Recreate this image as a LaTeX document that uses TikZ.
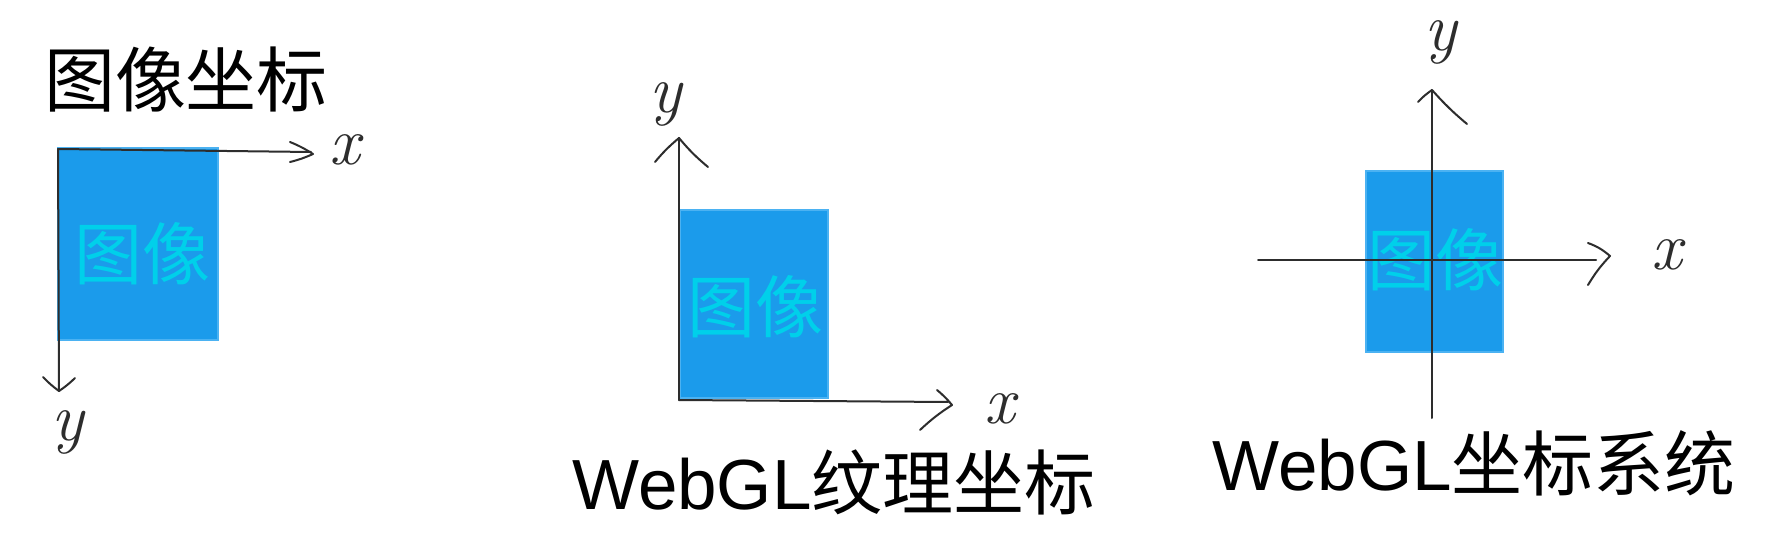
\documentclass[tikz,border=0pt]{standalone}
\usepackage{fontspec}
\newfontfamily\cjk{Noto Sans CJK SC}
\newfontfamily\latn{Liberation Sans}
\definecolor{rectblue}{RGB}{27,155,235}
\definecolor{rectedge}{RGB}{75,178,242}
\definecolor{imgcyan}{RGB}{0,208,234}
\definecolor{axisgray}{RGB}{45,45,45}
\tikzset{
  imgbox/.style={fill=rectblue, draw=rectedge, line width=1.5pt, inner sep=0pt},
  imgtxt/.style={text=imgcyan, font=\cjk\fontsize{68}{70}\selectfont, inner sep=0pt},
  title/.style={text=black, font=\cjk\fontsize{71}{80}\selectfont, inner sep=0pt},
  axis/.style={draw=axisgray, line width=2pt, line cap=round},
  tipline/.style={draw=axisgray, line width=2pt, line cap=round, line join=round},
  hand/.style={text=axisgray, font=\rmfamily\itshape\fontsize{68}{70}\selectfont, inner sep=0pt}
}
\begin{document}
\begin{tikzpicture}[x=1pt,y=-1pt]
\useasboundingbox (0,0) rectangle (1792,540);
\fill[white] (0,0) rectangle (1792,540);

% ---------- panel 1: image coordinates ----------
\node[title] (title1) at (186,80) {图像坐标};
\node[imgbox, minimum width=160pt, minimum height=192pt] (r1) at (138,244) {};
\node[imgtxt] (t1) at (142,254) {图像};
\coordinate (o1) at (58,149);
\coordinate (xe1) at (311,152);
\coordinate (ye1) at (59,391);
\draw[axis] (o1) -- (xe1);
\draw[axis] (o1) -- (ye1);
\draw[tipline] (290,142) to[bend left=5] (313,154) to[bend left=5] (290,162);
\draw[tipline] (43,377) to[bend right=5] (ye1) to[bend right=5] (75,378);
\node[hand] (xl1) at (345,150) {x};
\node[hand] (yl1) at (68,432) {y};

% ---------- panel 2: WebGL texture coordinates ----------
\node[imgbox, minimum width=148pt, minimum height=188pt] (r2) at (754,304) {};
\node[imgtxt] (t2) at (755,307) {图像};
\coordinate (o2) at (679,400);
\coordinate (ye2) at (679,138);
\coordinate (xe2) at (948,402);
\draw[axis] (o2) -- (ye2);
\draw[axis] (o2) -- (xe2);
\draw[tipline] (655,162) to[bend left=5] (ye2) to[bend right=5] (708,167);
\draw[tipline] (937,390) to[bend left=5] (952,405) to[bend right=5] (920,430);
\node[hand] (yl2) at (666,104) {y};
\node[hand] (xl2) at (1000,409) {x};
\node[title] (title2) at (834,482) {{\latn WebGL}纹理坐标};

% ---------- panel 3: WebGL coordinate system ----------
\node[imgbox, minimum width=137pt, minimum height=181pt] (r3) at (1434.5,261.5) {};
\node[imgtxt] (t3) at (1435,260) {图像};
\coordinate (yb3) at (1432,418);
\coordinate (ye3) at (1432,90);
\coordinate (xb3) at (1258,260);
\coordinate (xe3) at (1596,260);
\draw[axis] (yb3) -- (ye3);
\draw[axis] (xb3) -- (xe3);
\draw[tipline] (1418,102) to[bend left=6] (ye3) to[bend right=4] (1467,124);
\draw[tipline] (1588,243) to[bend left=10] (1610,256) to[bend right=6] (1588,285);
\node[hand] (yl3) at (1441,42) {y};
\node[hand] (xl3) at (1667,255) {x};
\node[title] (title3) at (1474,463) {{\latn WebGL}坐标系统};
\end{tikzpicture}
\end{document}
